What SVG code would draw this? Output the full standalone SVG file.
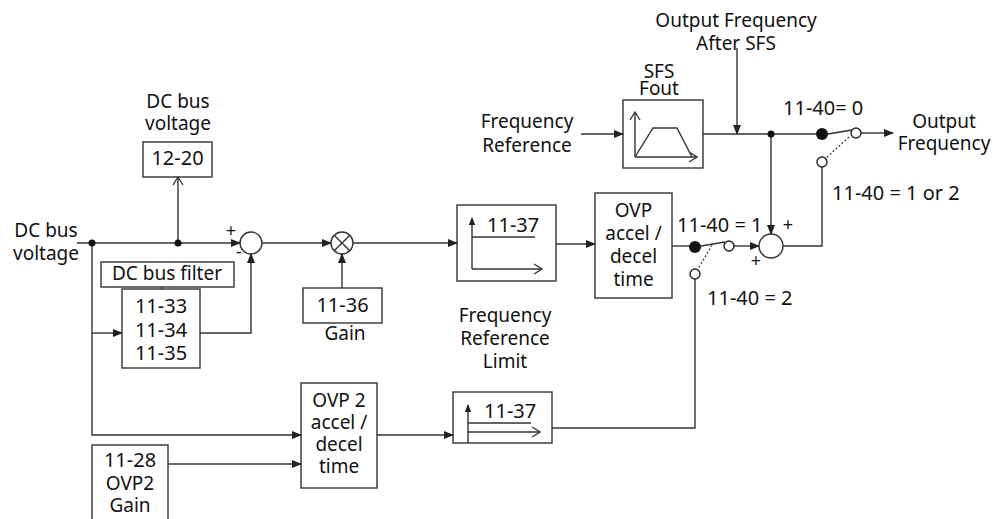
<svg xmlns="http://www.w3.org/2000/svg" width="997" height="519" viewBox="0 0 997 519">
<defs>
<marker id="ah" markerWidth="10" markerHeight="8" refX="9" refY="4" orient="auto" markerUnits="userSpaceOnUse"><path d="M0,0 L10,4 L0,8 Z" fill="#222"/></marker>
<marker id="ahs" markerWidth="8" markerHeight="8" refX="7" refY="4" orient="auto" markerUnits="userSpaceOnUse"><path d="M0,0.8 L8,4 L0,7.2 Z" fill="#222"/></marker>
<marker id="oa" markerWidth="10" markerHeight="12" refX="9" refY="6" orient="auto" markerUnits="userSpaceOnUse"><path d="M1,1 L9,6 L1,11" fill="none" stroke="#333" stroke-width="1.3"/></marker>
</defs>
<style>
text{font-family:"Noto Sans","Open Sans","Liberation Sans",sans-serif;font-size:19px;fill:#111}
.m{text-anchor:middle}
.n{font-size:20px}
.b{fill:#fff;stroke:#333;stroke-width:1.4}
.l{fill:none;stroke:#333;stroke-width:1.4}
.d{fill:none;stroke:#333;stroke-width:1.2;stroke-dasharray:2 2}
.dot{fill:#111}
.oc{fill:#fff;stroke:#222;stroke-width:1.4}
.pm{font-size:18px}
</style>
<rect width="997" height="519" fill="#fff"/>

<g id="labels">
<text class="m"><tspan x="46" y="237">DC bus</tspan><tspan x="46" y="260">voltage</tspan></text>
<text class="m"><tspan x="178" y="108">DC bus</tspan><tspan x="178" y="130">voltage</tspan></text>
<text class="m"><tspan x="736" y="27">Output Frequency</tspan><tspan x="736" y="50">After SFS</tspan></text>
<text class="m"><tspan x="527" y="128">Frequency</tspan><tspan x="527" y="152">Reference</tspan></text>
<text class="m"><tspan x="659" y="78">SFS</tspan><tspan x="659" y="95">Fout</tspan></text>
<text class="m"><tspan x="944" y="128">Output</tspan><tspan x="944" y="150">Frequency</tspan></text>
<text class="n" x="783" y="115">11-40= 0</text>
<text class="n" x="832" y="200">11-40 = 1 or 2</text>
<text class="n" x="677" y="232">11-40 = 1</text>
<text class="n" x="707" y="305">11-40 = 2</text>
<text class="m"><tspan x="505" y="322">Frequency</tspan><tspan x="505" y="345">Reference</tspan><tspan x="505" y="368">Limit</tspan></text>
<text class="m" x="345" y="340">Gain</text>
<text class="pm m" x="231" y="237">+</text>
<text class="pm m" x="239" y="258">-</text>
<text class="pm m" x="788" y="231">+</text>
<text class="pm m" x="756" y="267">+</text>
</g>

<g id="n1220"><rect class="b" x="143" y="142" width="69" height="35"/><text class="m n" x="177.5" y="165">12-20</text></g>
<g id="nfilter"><rect class="b" x="101" y="262" width="133" height="25"/><text class="m" x="167" y="280">DC bus filter</text></g>
<g id="n1133"><rect class="b" x="122" y="289" width="78" height="79"/><text class="m n"><tspan x="161" y="313">11-33</tspan><tspan x="161" y="337">11-34</tspan><tspan x="161" y="360">11-35</tspan></text></g>
<g id="nsum1"><circle class="b" cx="251" cy="243" r="11"/></g>
<g id="nmul"><circle class="b" cx="342" cy="243" r="11"/><path class="l" d="M334.2,235.2 L349.8,250.8 M349.8,235.2 L334.2,250.8"/></g>
<g id="n1136"><rect class="b" x="303" y="288" width="79" height="35"/><text class="m n" x="342.5" y="312">11-36</text></g>
<g id="nlim1"><rect class="b" x="457" y="205" width="99" height="76"/>
<path class="l" d="M472,269 V218" marker-end="url(#ahs)"/><path class="l" d="M472,237 H535"/><path class="l" d="M472,269 H542" marker-end="url(#oa)"/>
<text class="n" x="487" y="232">11-37</text></g>
<g id="novp"><rect class="b" x="595" y="193" width="77" height="105"/><text class="m"><tspan x="633.5" y="217">OVP</tspan><tspan x="633.5" y="240">accel /</tspan><tspan x="633.5" y="263">decel</tspan><tspan x="633.5" y="286">time</tspan></text></g>
<g id="nsfs"><rect class="b" x="623" y="100" width="80" height="68"/>
<path class="l" d="M635,157 V112" marker-end="url(#oa)"/><path class="l" d="M635,157 H697" marker-end="url(#oa)"/><path class="l" d="M635,157 L653,128 H677 L692,157"/></g>
<g id="nsum2"><circle class="b" cx="771" cy="246" r="12"/></g>
<g id="novp2"><rect class="b" x="301" y="383" width="76" height="105"/><text class="m"><tspan x="339" y="407">OVP 2</tspan><tspan x="339" y="429">accel /</tspan><tspan x="339" y="451">decel</tspan><tspan x="339" y="473">time</tspan></text></g>
<g id="n1128"><rect class="b" x="92" y="445" width="76" height="80"/><text class="m"><tspan class="n" x="130" y="467">11-28</tspan><tspan x="130" y="490">OVP2</tspan><tspan x="130" y="512">Gain</tspan></text></g>
<g id="nlim2"><rect class="b" x="453" y="392" width="99" height="51"/>
<path class="l" d="M468,443 V405" marker-end="url(#ahs)"/><path class="l" d="M468,423 H531"/><path class="l" d="M468,432 H540" marker-end="url(#oa)"/>
<text class="n" x="484" y="418">11-37</text></g>

<g id="connectors">
<path class="l" d="M77,243 H240" marker-end="url(#ah)"/>
<path class="l" d="M178,243 V177" marker-end="url(#oa)"/>
<path class="l" d="M162,287 V289"/>
<path class="l" d="M92,243 V435 H301" marker-end="url(#ah)"/>
<path class="l" d="M92,333 H122" marker-end="url(#ah)"/>
<path class="l" d="M200,333 H251 V254" marker-end="url(#ah)"/>
<path class="l" d="M262,243 H331" marker-end="url(#ah)"/>
<path class="l" d="M342,288 V254" marker-end="url(#ah)"/>
<path class="l" d="M353,243 H457" marker-end="url(#ah)"/>
<path class="l" d="M556,244 H595" marker-end="url(#ah)"/>
<path class="l" d="M168,464 H301" marker-end="url(#ah)"/>
<path class="l" d="M377,435 H453" marker-end="url(#ah)"/>
<path class="l" d="M552,428 H695 V279"/>
<path class="l" d="M672,246 H695"/>
<path class="l" d="M695,247 L725,242"/>
<path class="d" d="M712,245 L698,269"/>
<path class="l" d="M734,246 H759" marker-end="url(#ah)"/>
<path class="l" d="M783,246 H822 V167"/>
<path class="l" d="M581,134 H623" marker-end="url(#ah)"/>
<path class="l" d="M703,134 H822"/>
<path class="l" d="M737,48 V134" marker-end="url(#ah)"/>
<path class="l" d="M771,134 V234" marker-end="url(#ah)"/>
<path class="l" d="M822,135 L852,130"/>
<path class="d" d="M849,137 L826,158"/>
<path class="l" d="M861,133 H893" marker-end="url(#ah)"/>
<circle class="dot" cx="92" cy="243" r="3.5"/>
<circle class="dot" cx="178" cy="243" r="3.5"/>
<circle class="dot" cx="771" cy="134" r="3.5"/>
<circle class="dot" cx="822" cy="134" r="6"/>
<circle class="dot" cx="695" cy="247" r="6"/>
<circle class="oc" cx="856" cy="133" r="5"/>
<circle class="oc" cx="822" cy="162" r="5"/>
<circle class="oc" cx="729" cy="246" r="5"/>
<circle class="oc" cx="695" cy="274" r="5"/>
</g>
</svg>
